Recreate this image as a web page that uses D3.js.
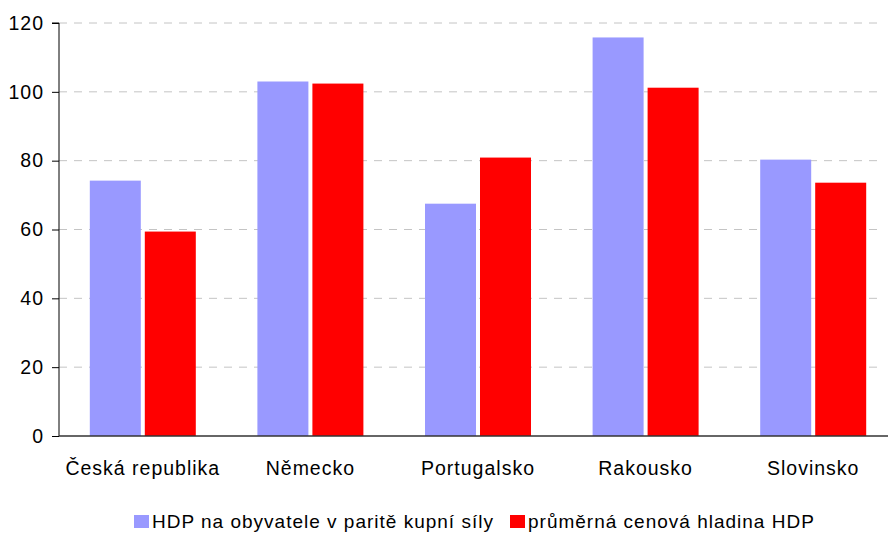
<!DOCTYPE html>
<html>
<head>
<meta charset="utf-8">
<script src="https://cdn.jsdelivr.net/npm/d3@7"></script>
<style>
  body { margin: 0; background: #fff; }
  text { font-family: "Liberation Sans", Arial, sans-serif; fill: #000; }
</style>
</head>
<body>
<svg id="chart" width="888" height="533"></svg>
<script>
// data
var categories = ["Česká republika", "Německo", "Portugalsko", "Rakousko", "Slovinsko"];
var seriesNames = ["HDP na obyvatele v paritě kupní síly", "průměrná cenová hladina HDP"];
var hdpPps = [74.2, 103.0, 67.5, 115.8, 80.3];
var priceLevel = [59.4, 102.4, 80.9, 101.2, 73.6];
var yTicks = [0, 20, 40, 60, 80, 100, 120];
var colors = ["#9999ff", "#ff0000"];

var svg = d3.select("svg#chart");
var margin = {top: 23, left: 59};
var plotRight = 897, gridRight = 882, axisRight = 888;

var x = d3.scaleBand()
    .domain(categories)
    .range([margin.left, plotRight]);
var barW = 51, barGap = 4;

var y = d3.scaleLinear()
    .domain([0, 120])
    .range([436, margin.top]);

// gridlines
svg.append("g")
  .selectAll("line")
  .data(yTicks.filter(d => d > 0))
  .enter().append("line")
  .attr("x1", margin.left)
  .attr("x2", gridRight)
  .attr("y1", d => y(d))
  .attr("y2", d => y(d))
  .attr("stroke", "#c4c4c4")
  .attr("stroke-width", 1)
  .attr("stroke-dasharray", "8,7");

// bars
var rows = categories.map((c, i) => ({cat: c, vals: [hdpPps[i], priceLevel[i]]}));
var groups = svg.append("g").attr("class", "bars")
  .selectAll("g")
  .data(rows)
  .enter().append("g")
  .attr("transform", d => `translate(${x(d.cat) + x.bandwidth()/2},0)`);

groups.selectAll("rect")
  .data(d => d.vals)
  .enter().append("rect")
  .attr("x", (d, j) => j === 0 ? -barW - barGap/2 : barGap/2)
  .attr("width", barW)
  .attr("y", d => y(d))
  .attr("height", d => y(0) - y(d))
  .attr("fill", (d, j) => colors[j]);

// y axis
var yAxis = svg.append("g")
  .attr("class", "yaxis")
  .attr("transform", `translate(${margin.left},0)`)
  .call(d3.axisLeft(y).tickValues(yTicks).tickSize(7).tickPadding(8));
yAxis.select(".domain").attr("stroke", "#000").attr("d", `M-7,${y(120)}H0V${y(0)}`);
yAxis.selectAll(".tick line").attr("stroke", "#000");
yAxis.selectAll(".tick text")
  .attr("font-size", "19.5px")
  .attr("letter-spacing", "1px")
  .attr("font-family", "Liberation Sans, Arial, sans-serif")
  .attr("fill", "#000");

// x axis baseline
svg.append("line")
  .attr("x1", margin.left)
  .attr("x2", axisRight)
  .attr("y1", y(0))
  .attr("y2", y(0))
  .attr("stroke", "#333")
  .attr("stroke-width", 1.3);

// category labels
svg.append("g")
  .selectAll("text")
  .data(categories)
  .enter().append("text")
  .attr("x", d => x(d) + x.bandwidth()/2)
  .attr("y", 475)
  .attr("text-anchor", "middle")
  .attr("font-size", "19.5px")
  .attr("letter-spacing", "1px")
  .text(d => d);

// legend
var legendX = [134, 510];
var legend = svg.append("g")
  .selectAll("g")
  .data(seriesNames)
  .enter().append("g")
  .attr("transform", (d, i) => `translate(${legendX[i]},515)`);
legend.append("rect")
  .attr("width", 15)
  .attr("height", 13)
  .attr("fill", (d, i) => colors[i]);
legend.append("text")
  .attr("x", 18)
  .attr("y", 13)
  .attr("font-size", "19px")
  .attr("letter-spacing", "1px")
  .text(d => d);
</script>
</body>
</html>
